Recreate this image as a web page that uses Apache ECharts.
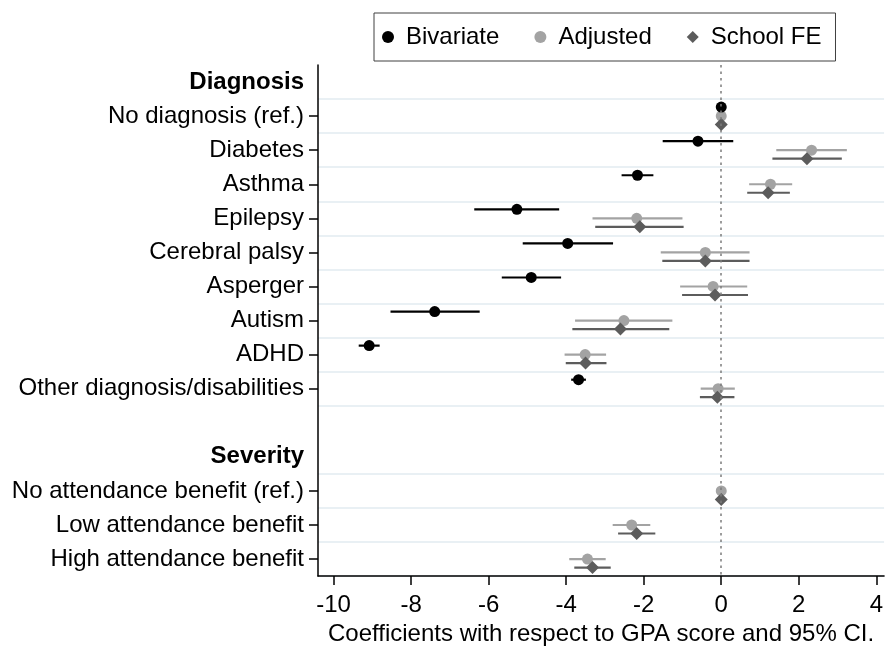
<!DOCTYPE html>
<html>
<head>
<meta charset="utf-8">
<script src="https://cdn.jsdelivr.net/npm/echarts@6/dist/echarts.min.js"></script>
<style>
  html, body { margin: 0; padding: 0; background: #fff; }
  #chart { width: 886px; height: 651px; }
</style>
</head>
<body>
<div id="chart"></div>
<script>
// ---- data (rows listed top to bottom) ----
const categories = ['Diagnosis', 'No diagnosis (ref.)', 'Diabetes', 'Asthma', 'Epilepsy', 'Cerebral palsy',
  'Asperger', 'Autism', 'ADHD', 'Other diagnosis/disabilities', '', 'Severity',
  'No attendance benefit (ref.)', 'Low attendance benefit', 'High attendance benefit'];
const headerRows = ['Diagnosis', 'Severity'];

const bivariateEst = [null, 0, -0.60, -2.16, -5.27, -3.96, -4.90, -7.39, -9.08, -3.68, null, null, null, null, null];
const bivariateLo  = [null, null, -1.51, -2.57, -6.37, -5.12, -5.66, -8.53, -9.35, -3.87, null, null, null, null, null];
const bivariateHi  = [null, null, 0.31, -1.75, -4.18, -2.79, -4.13, -6.23, -8.81, -3.49, null, null, null, null, null];

const adjustedEst = [null, 0, 2.33, 1.27, -2.18, -0.41, -0.21, -2.51, -3.51, -0.08, null, null, 0, -2.31, -3.45];
const adjustedLo  = [null, null, 1.42, 0.72, -3.32, -1.56, -1.06, -3.77, -4.04, -0.53, null, null, null, -2.80, -3.92];
const adjustedHi  = [null, null, 3.24, 1.83, -1.00, 0.73, 0.67, -1.26, -2.97, 0.35, null, null, null, -1.83, -2.98];

const schoolFEEst = [null, 0, 2.21, 1.21, -2.10, -0.41, -0.16, -2.60, -3.50, -0.10, null, null, 0, -2.18, -3.32];
const schoolFELo  = [null, null, 1.32, 0.67, -3.25, -1.52, -1.01, -3.84, -4.01, -0.55, null, null, null, -2.66, -3.79];
const schoolFEHi  = [null, null, 3.11, 1.77, -0.97, 0.73, 0.69, -1.34, -2.96, 0.34, null, null, null, -1.70, -2.85];

const xTicks = [-10, -8, -6, -4, -2, 0, 2, 4];
const xTitle = 'Coefficients with respect to GPA score and 95% CI.';

// ---- helpers ----
const FONT = '"Liberation Sans", Arial, sans-serif';
function points(est) {
  const out = [];
  est.forEach((v, i) => { if (v !== null) out.push([v, i]); });
  return out;
}
function intervals(lo, hi) {
  const out = [];
  lo.forEach((v, i) => { if (v !== null && hi[i] !== null) out.push([v, hi[i], i]); });
  return out;
}
function ciSeries(name, lo, hi, color, offset) {
  return {
    type: 'custom',
    name: name,
    z: 1,
    silent: true,
    encode: { x: [0, 1], y: 2 },
    data: intervals(lo, hi),
    renderItem: function (params, api) {
      const c = api.value(2);
      const p1 = api.coord([api.value(0), c]);
      const p2 = api.coord([api.value(1), c]);
      return {
        type: 'line',
        shape: { x1: p1[0], y1: p1[1] + offset, x2: p2[0], y2: p2[1] + offset },
        style: { stroke: color, lineWidth: 2.2 }
      };
    }
  };
}

const C_BIV = '#000000';
const C_ADJ = '#a3a3a3';
const C_FE = '#5c5c5c';
const OFF_BIV = -9, OFF_ADJ = 0, OFF_FE = 8.5;

const chart = echarts.init(document.getElementById('chart'), null, { renderer: 'canvas' });
chart.setOption({
  animation: false,
  backgroundColor: '#ffffff',
  textStyle: { fontFamily: FONT },
  legend: {
    left: 374, top: 13,
    orient: 'horizontal',
    padding: [12, 14, 12, 8],
    borderColor: '#404040', borderWidth: 1,
    itemWidth: 12, itemHeight: 12, itemGap: 35,
    textStyle: { fontSize: 24, color: '#000', fontFamily: FONT, padding: [0, 0, 0, 7] },
    data: [
      { name: 'Bivariate', icon: 'circle' },
      { name: 'Adjusted', icon: 'circle' },
      { name: 'School FE', icon: 'diamond' }
    ]
  },
  grid: { left: 318, right: 0, top: 65, bottom: 69, containLabel: false },
  xAxis: {
    type: 'value',
    z: 5,
    min: -10.4, max: 4.2,
    name: xTitle,
    nameLocation: 'middle',
    nameGap: 38,
    nameTextStyle: { fontSize: 24, color: '#000', fontFamily: FONT },
    axisLine: { show: true, lineStyle: { color: '#000', width: 1.5 } },
    axisTick: { show: true, length: 9, customValues: xTicks, lineStyle: { color: '#000', width: 1.5 } },
    axisLabel: { customValues: xTicks, fontSize: 24, color: '#000', margin: 17, fontFamily: FONT },
    splitLine: { show: false }
  },
  yAxis: {
    type: 'category',
    inverse: true,
    data: categories,
    boundaryGap: true,
    axisLine: { show: true, onZero: false, lineStyle: { color: '#000', width: 1.5 } },
    axisTick: {
      show: true, alignWithLabel: true, length: 9,
      interval: function (i) { return i !== 0 && i !== 10 && i !== 11; },
      lineStyle: { color: '#000', width: 1.5 }
    },
    axisLabel: {
      interval: 0, fontSize: 24, color: '#000', margin: 14, fontFamily: FONT,
      formatter: function (v) { return headerRows.indexOf(v) >= 0 ? '{b|' + v + '}' : v; },
      rich: { b: { fontWeight: 'bold', fontSize: 24, color: '#000', fontFamily: FONT } }
    },
    splitLine: {
      show: true,
      interval: function (i) { return i !== 0 && i !== 11; },
      lineStyle: { color: '#e2ebf1', width: 1.5 }
    }
  },
  series: [
    ciSeries('Adjusted CI', adjustedLo, adjustedHi, C_ADJ, OFF_ADJ),
    ciSeries('Bivariate CI', bivariateLo, bivariateHi, C_BIV, OFF_BIV),
    ciSeries('School FE CI', schoolFELo, schoolFEHi, C_FE, OFF_FE),
    {
      type: 'scatter', name: 'Adjusted', z: 3,
      symbol: 'circle', symbolSize: 11, symbolOffset: [0, OFF_ADJ],
      itemStyle: { color: C_ADJ, opacity: 1 },
      data: points(adjustedEst),
      markLine: {
        silent: true, symbol: ['none', 'none'], label: { show: false },
        lineStyle: { color: '#7c7c7c', type: [2.5, 4], width: 1.5 },
        data: [{ xAxis: 0 }]
      }
    },
    {
      type: 'scatter', name: 'Bivariate', z: 4,
      symbol: 'circle', symbolSize: 11, symbolOffset: [0, OFF_BIV],
      itemStyle: { color: C_BIV, opacity: 1 },
      data: points(bivariateEst)
    },
    {
      type: 'scatter', name: 'School FE', z: 4,
      symbol: 'diamond', symbolSize: [13, 13], symbolOffset: [0, OFF_FE],
      itemStyle: { color: C_FE, opacity: 1 },
      data: points(schoolFEEst)
    }
  ]
});
</script>
</body>
</html>
